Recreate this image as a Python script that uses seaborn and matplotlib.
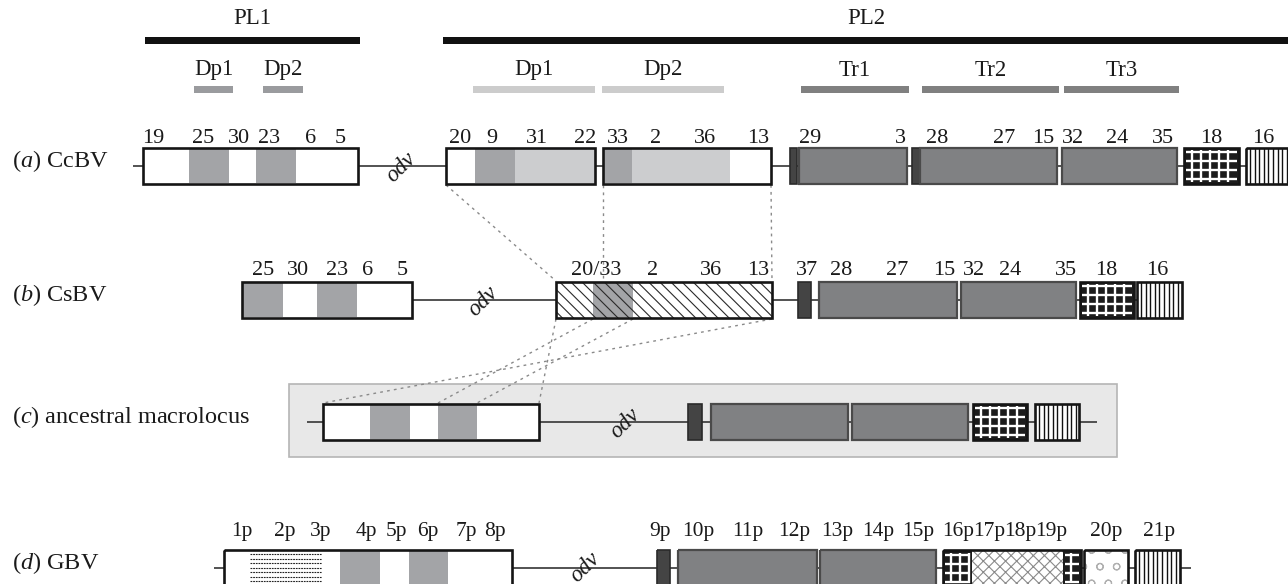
import numpy as np
import matplotlib
matplotlib.use("Agg")
import matplotlib.pyplot as plt
from matplotlib.patches import Rectangle
import seaborn as sns

# ---- data: positions along the drawing (pixel units of the 1288x584 canvas) ----
pl_names = ["PL1", "PL2"]
pl_start = [145, 443]
pl_end = [360, 1290]

dup_names = ["Dp1", "Dp2", "Dp1", "Dp2", "Tr1", "Tr2", "Tr3"]
dup_start = [194, 263, 473, 602, 801, 922, 1064]
dup_end = [233, 303, 595, 724, 909, 1059, 1179]
dup_kind = ["mid", "mid", "light", "light", "tr", "tr", "tr"]

# (a) CcBV
a_box_start = [143, 446, 603, 790, 799, 912, 920, 1062, 1184, 1246]
a_box_end = [358, 595, 771, 797, 907, 920, 1057, 1177, 1239, 1296]
a_box_fill = ["white", "white", "white", "small", "tr", "small", "tr", "tr", "grid", "stripe"]
a_seg_start = [189, 256, 475, 515, 603, 632]
a_seg_end = [229, 296, 515, 595, 632, 730]
a_seg_fill = ["mid", "mid", "mid", "light", "mid", "light"]
a_line = [133, 1290]
a_ids = ["19", "25", "30", "23", "6", "5", "20", "9", "31", "22", "33", "2", "36", "13",
         "29", "3", "28", "27", "15", "32", "24", "35", "18", "16"]
a_ids_x = [153, 203, 239, 269, 311, 340, 460, 492, 537, 585, 618, 656, 705, 758,
           810, 900, 937, 1004, 1043, 1073, 1117, 1163, 1211, 1263]
a_odv = 401

# (b) CsBV
b_box_start = [242, 556, 798, 819, 961, 1080, 1137]
b_box_end = [412, 772, 811, 957, 1076, 1134, 1182]
b_box_fill = ["white", "hatch", "small", "tr", "tr", "grid", "stripe"]
b_seg_start = [242, 317, 593]
b_seg_end = [283, 357, 633]
b_seg_fill = ["mid", "mid", "mid"]
b_line = [412, 1137]
b_ids = ["25", "30", "23", "6", "5", "20/33", "2", "36", "13", "37", "28", "27", "15",
         "32", "24", "35", "18", "16"]
b_ids_x = [263, 298, 337, 368, 402, 596, 653, 711, 758, 807, 841, 897, 944,
           974, 1010, 1066, 1106, 1157]
b_odv = 483

# (c) ancestral macrolocus
c_box_start = [323, 688, 711, 852, 973, 1035]
c_box_end = [539, 702, 848, 968, 1027, 1079]
c_box_fill = ["white", "small", "tr", "tr", "grid", "stripe"]
c_seg_start = [370, 438]
c_seg_end = [410, 477]
c_seg_fill = ["mid", "mid"]
c_line = [307, 1097]
c_ids = []
c_ids_x = []
c_odv = 625
c_frame = [289, 1117]

# (d) GBV
d_box_start = [224, 657, 678, 820, 943, 1084, 1135]
d_box_end = [512, 670, 817, 936, 1081, 1128, 1180]
d_box_fill = ["white", "small", "tr", "tr", "white", "dots", "stripe"]
d_seg_start = [250, 340, 409, 943, 972, 1063]
d_seg_end = [322, 380, 448, 972, 1063, 1081]
d_seg_fill = ["dash", "mid", "mid", "grid", "xhatch", "grid"]
d_line = [214, 1191]
d_ids = ["1p", "2p", "3p", "4p", "5p", "6p", "7p", "8p", "9p", "10p", "11p", "12p", "13p",
         "14p", "15p", "16p", "17p", "18p", "19p", "20p", "21p"]
d_ids_x = [242, 285, 321, 366, 396, 428, 466, 495, 660, 698, 748, 794, 837,
           878, 918, 958, 989, 1020, 1051, 1106, 1159]
d_odv = 585

# dotted homology connectors: x on the upper row -> x on the lower row
conn_rows = [("a", "b")] * 3 + [("b", "c")] * 4
conn_top = [446, 603, 771, 556, 593, 633, 772]
conn_bottom = [556, 603, 772, 539, 438, 477, 323]

# ---- layout / style ----
ROW_Y = {"a": 166, "b": 300, "c": 422, "d": 568}
BOX_H = 36
ID_GAP = {"a": 5, "b": 7, "c": 0, "d": 14}
ID_SIZE = {"a": 16, "b": 16, "c": 16, "d": 15.5}
TITLES = {"a": r"($\mathit{a}$) CcBV", "b": r"($\mathit{b}$) CsBV",
          "c": r"($\mathit{c}$) ancestral macrolocus", "d": r"($\mathit{d}$) GBV"}
FILL = {"white": "white", "mid": "#a3a4a7", "light": "#cccdcf",
        "tr": "#808183", "small": "#444444"}

sns.set_style("white")
plt.rcParams["font.family"] = ["Liberation Serif", "DejaVu Serif"]
plt.rcParams["mathtext.fontset"] = "custom"
plt.rcParams["mathtext.rm"] = "Liberation Serif"
plt.rcParams["mathtext.it"] = "Liberation Serif:italic"
plt.rcParams["hatch.linewidth"] = 0.8

fig = plt.figure(figsize=(12.88, 5.84), dpi=100)
ax = fig.add_axes([0, 0, 1, 1])
ax.set_xlim(0, 1288)
ax.set_ylim(584, 0)
ax.axis("off")


def grid_fill(x0, x1, y0, y1):
    ax.add_patch(Rectangle((x0, y0), x1 - x0, y1 - y0, fc="#1c1c1c", ec="none", zorder=4))
    xs = np.arange(x0 + 8.5, x1 - 2, 9.0)
    ys = np.arange(y0 + 4, y1 - 2, 9.0)
    ax.vlines(xs, y0 + 2, y1 - 2, colors="white", lw=1.7, zorder=4.2)
    ax.hlines(ys, x0 + 2, x1 - 2, colors="white", lw=1.7, zorder=4.2)


def stripe_fill(x0, x1, y0, y1):
    ax.add_patch(Rectangle((x0, y0), x1 - x0, y1 - y0, fc="white", ec="none", zorder=4))
    xs = np.arange(x0 + 4, x1 - 1, 4.6)
    ax.vlines(xs, y0, y1, colors="#111111", lw=1.0, zorder=4.2)


def dash_fill(x0, x1, y0, y1):
    ys = np.arange(y0 + 3, y1 - 2, 4.5)
    ax.hlines(ys, x0, x1, colors="#222222", lw=0.8, linestyles=(0, (1.6, 0.8)), zorder=4.2)


def hatch_fill(x0, x1, y0, y1, pattern, color):
    ax.add_patch(Rectangle((x0, y0), x1 - x0, y1 - y0, fc="none", ec=color, lw=0,
                           hatch=pattern, zorder=4.5))


def fill(kind, x0, x1, y0, y1):
    if kind == "grid":
        grid_fill(x0, x1, y0, y1)
    elif kind == "stripe":
        stripe_fill(x0, x1, y0, y1)
    elif kind == "dash":
        dash_fill(x0, x1, y0, y1)
    elif kind == "hatch":
        ax.add_patch(Rectangle((x0, y0), x1 - x0, y1 - y0, fc="white", ec="none", zorder=3))
        hatch_fill(x0, x1, y0, y1, "\\\\\\", "#2a2a2a")
    elif kind == "xhatch":
        ax.add_patch(Rectangle((x0, y0), x1 - x0, y1 - y0, fc="white", ec="none", zorder=4))
        hatch_fill(x0, x1, y0, y1, "xxx", "#8a8a8a")
    elif kind == "dots":
        ax.add_patch(Rectangle((x0, y0), x1 - x0, y1 - y0, fc="white", ec="none", zorder=3))
        hatch_fill(x0, x1, y0, y1, "o", "#b0b0b0")
    else:
        ax.add_patch(Rectangle((x0, y0), x1 - x0, y1 - y0, fc=FILL[kind], ec="none", zorder=4))


def draw_row(key, box_start, box_end, box_fill, seg_start, seg_end, seg_fill,
             line, ids, ids_x, odv_x):
    yc = ROW_Y[key]
    y0, y1 = yc - BOX_H / 2, yc + BOX_H / 2
    ax.plot(line, [yc, yc], color="#444444", lw=1.3, zorder=2, solid_capstyle="butt")
    for x0, x1, kind in zip(box_start, box_end, box_fill):
        fill(kind, x0, x1, y0, y1)
        if kind == "tr":
            ec, lw = "#4a4a4a", 1.6
        elif kind == "small":
            ec, lw = "#2a2a2a", 1.2
        else:
            ec, lw = "#151515", 1.9
        ax.add_patch(Rectangle((x0, y0), x1 - x0, y1 - y0, fc="none", ec=ec, lw=lw, zorder=6))
    for x0, x1, kind in zip(seg_start, seg_end, seg_fill):
        fill(kind, x0, x1, y0 + 1, y1 - 1)
    for name, x in zip(ids, ids_x):
        ax.text(x, y0 - ID_GAP[key], name, ha="center", va="baseline", fontsize=ID_SIZE[key],
                color="#1a1a1a")
    ax.text(odv_x, yc - 1 if key == "d" else yc + 1, "odv", ha="center", va="center",
            rotation=45, fontsize=16.5, style="italic", color="#1a1a1a", zorder=7)
    ax.text(12, yc - 5, TITLES[key], ha="left", va="center", fontsize=17.5, color="#1a1a1a")


# top annotation bars
for name, x0, x1 in zip(pl_names, pl_start, pl_end):
    ax.add_patch(Rectangle((x0, 37), x1 - x0, 7, fc="#111111", ec="none"))
    ax.text((x0 + x1) / 2, 18, name, ha="center", va="center", fontsize=16.5, color="#1a1a1a")
bar_col = {"mid": "#9a9b9e", "light": "#cccccc", "tr": "#808080"}
for name, x0, x1, kind in zip(dup_names, dup_start, dup_end, dup_kind):
    ax.add_patch(Rectangle((x0, 86), x1 - x0, 7, fc=bar_col[kind], ec="none"))
    ax.text((x0 + x1) / 2, 70, name, ha="center", va="center", fontsize=16.5, color="#1a1a1a")

# grey frame behind the ancestral reconstruction
ax.add_patch(Rectangle((c_frame[0], 384), c_frame[1] - c_frame[0], 73,
                       fc="#e8e8e8", ec="#b5b5b5", lw=1.2, zorder=1))

draw_row("a", a_box_start, a_box_end, a_box_fill, a_seg_start, a_seg_end, a_seg_fill,
         a_line, a_ids, a_ids_x, a_odv)
draw_row("b", b_box_start, b_box_end, b_box_fill, b_seg_start, b_seg_end, b_seg_fill,
         b_line, b_ids, b_ids_x, b_odv)
draw_row("c", c_box_start, c_box_end, c_box_fill, c_seg_start, c_seg_end, c_seg_fill,
         c_line, c_ids, c_ids_x, c_odv)
draw_row("d", d_box_start, d_box_end, d_box_fill, d_seg_start, d_seg_end, d_seg_fill,
         d_line, d_ids, d_ids_x, d_odv)

for (r0, r1), xt, xb in zip(conn_rows, conn_top, conn_bottom):
    ax.plot([xt, xb], [ROW_Y[r0] + BOX_H / 2 + 1, ROW_Y[r1] - BOX_H / 2 - 1],
            color="#8a8a8a", lw=1.0, ls=(0, (2, 3)), zorder=1.5)

fig.savefig("out.png", dpi=100)
